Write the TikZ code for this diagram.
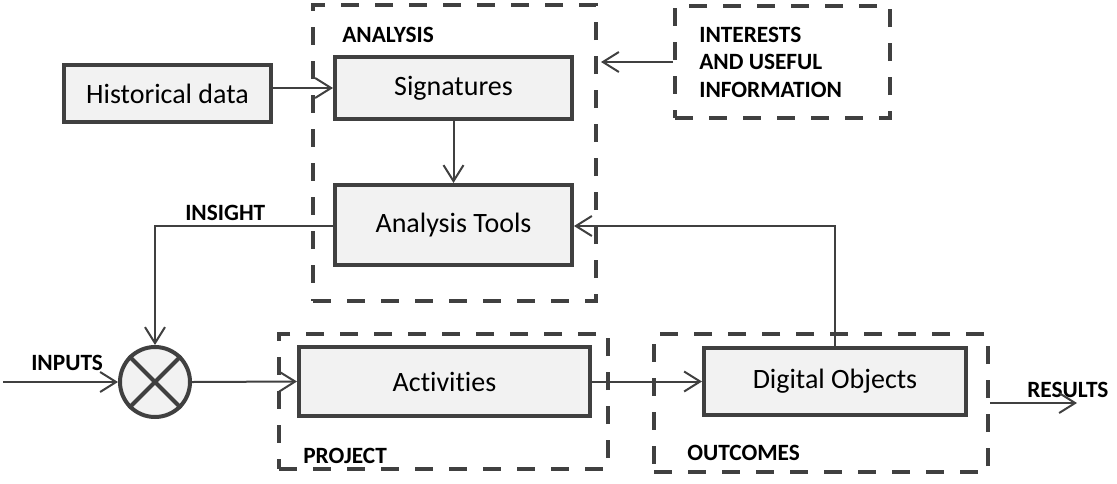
\documentclass[tikz,border=0pt]{standalone}
\usepackage{fontspec}
\setmainfont{Carlito}[Ligatures=NoCommon]
\usetikzlibrary{arrows.meta,fit}
\definecolor{edge}{HTML}{404040}
\definecolor{boxfill}{HTML}{F2F2F2}
\begin{document}
\begin{tikzpicture}[x=0.75pt,y=-0.75pt,
  box/.style={draw=edge,fill=boxfill,line width=3pt,inner sep=0pt,font=\fontsize{21}{25}\selectfont},
  group/.style={draw=edge,line width=3pt,dash pattern=on 13.5pt off 12pt,inner sep=0pt},
  lbl/.style={font=\bfseries\fontsize{17.5}{20.5}\selectfont,inner sep=0pt},
  conn/.style={draw=edge,line width=1.5pt,-{Straight Barb[length=12pt,width=15pt,line width=1.5pt]}}]
\useasboundingbox (0,0) rectangle (1117,483);

% dashed group frames
\node[group,fit={(313,5) (596,301)}] (analysis) {};
\node[group,fit={(675,6) (890,118)}] (interests) {};
\node[group,fit={(279,334) (608,469)}] (project) {};
\node[group,fit={(654,334) (988,472)}] (outcomes) {};

% process boxes
\node[box,minimum width=155.25pt,minimum height=42.75pt] (hist) at (167.5,93.5) {Historical data};
\node[box,minimum width=177.75pt,minimum height=46.5pt] (sig) at (453.5,88) {Signatures};
\node[box,minimum width=177.75pt,minimum height=60pt] (tools) at (453.5,225) {Analysis Tools};
\node[box,minimum width=218.25pt,minimum height=51.75pt] (act) at (444.5,381.5) {Activities};
\node[box,minimum width=196.5pt,minimum height=50.25pt] (dig) at (835,381.5) {Digital Objects};

% summing junction
\node[draw=edge,fill=boxfill,line width=3pt,circle,minimum size=52.5pt,inner sep=0pt] (sum) at (155,382) {};
\draw[edge,line width=3pt] (sum.north west) -- (sum.south east) (sum.north east) -- (sum.south west);

% labels
\node[lbl,anchor=west] (lanalysis) at (342,35) {ANALYSIS};
\node[lbl,anchor=north west,align=left] (linterests) at (699,27) {INTERESTS\\AND USEFUL\\INFORMATION};
\node[lbl,anchor=west] (linsight) at (185,213) {INSIGHT};
\node[lbl,anchor=west] (linputs) at (31,363) {INPUTS};
\node[lbl,anchor=west] (lproject) at (303,456) {PROJECT};
\node[lbl,anchor=west] (loutcomes) at (687,453) {OUTCOMES};
\node[lbl,anchor=west] (lresults) at (1027,390) {RESULTS};

% free ends
\coordinate (in) at (3,382);
\coordinate (res) at (1077,403);
\coordinate (ins) at (155,226);
\coordinate (fb) at (835,226);
\coordinate (infoend) at (601,62);

% connectors
\draw[conn] (hist.east |- sig.west) -- (sig.west);
\draw[conn] (interests.west |- infoend) -- (infoend);
\draw[conn] (sig.south) -- (tools.north);
\draw[conn] (tools.west |- ins) -- (ins) -- (sum.north);
\draw[conn] (in) -- (sum.west);
\draw[conn] (sum.east) -- (act.west);
\draw[conn] (act.east) -- (dig.west);
\draw[conn] (dig.north -| fb) -- (fb) -- (tools.east |- fb);
\draw[conn] (outcomes.east |- res) -- (res);
\end{tikzpicture}
\end{document}
